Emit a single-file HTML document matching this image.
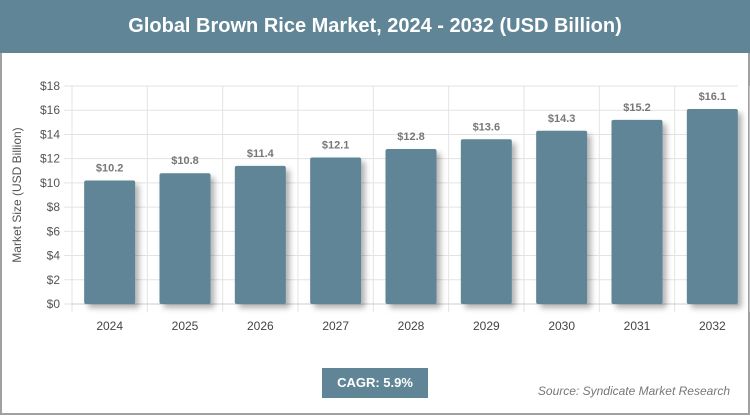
<!DOCTYPE html>
<html><head><meta charset="utf-8"><style>
body{margin:0;width:750px;height:417px;overflow:hidden;background:#fff;font-family:"Liberation Sans",sans-serif}
#frame{position:absolute;left:0;top:0;width:746px;height:413px;border:2px solid #a0a0a0;border-top:none}
#title{position:absolute;left:0;top:0;width:750px;height:53px;background:#5f8596;color:#fff;font-weight:bold;font-size:20px;text-align:center;line-height:53px}
#cagr{position:absolute;left:322px;top:368px;width:106px;height:30px;background:#5f8596;color:#fff;font-weight:bold;font-size:13px;text-align:center;line-height:30px}
#src{position:absolute;right:20px;top:384px;font-style:italic;color:#777;font-size:12px}
</style></head><body>
<div id="frame"></div>
<div id="title">Global Brown Rice Market, 2024 - 2032 (USD Billion)</div>
<svg id="chart" width="750" height="417" style="position:absolute;left:0;top:0">
<defs><filter id="sh" x="-20%" y="-10%" width="160%" height="130%"><feDropShadow dx="4" dy="4" stdDeviation="3" flood-color="#000" flood-opacity="0.3"/></filter></defs>
</svg>
<div id="cagr">CAGR: 5.9%</div>
<div id="src">Source: Syndicate Market Research</div>
<script>
const categories=["2024","2025","2026","2027","2028","2029","2030","2031","2032"];
const values=[10.2,10.8,11.4,12.1,12.8,13.6,14.3,15.2,16.1];
const yTicks=[0,2,4,6,8,10,12,14,16,18];
const svg=document.getElementById('chart');
const NS='http://www.w3.org/2000/svg';
const L=72,R=750,T=86,B=304,yMax=18;
const band=(R-L)/categories.length;
const y=v=>B-(v/yMax)*(B-T);
const x=i=>L+band*i;
function mk(t,a,txt){const e=document.createElementNS(NS,t);for(const k in a)e.setAttribute(k,a[k]);if(txt!=null)e.textContent=txt;svg.appendChild(e);return e;}
yTicks.forEach(t=>{
 const g=mk('line',{x1:L-8,x2:738,y1:y(t),y2:y(t),stroke:'#e3e3e3','stroke-width':1});
 
 
 const l=mk('text',{x:L-12,y:y(t)+4,'text-anchor':'end','font-size':12,fill:'#555'},'$'+t);
 
 
});
for(let i=0;i<=categories.length;i++){
 const g=mk('line',{x1:x(i),x2:x(i),y1:T,y2:B+8,stroke:'#e3e3e3','stroke-width':1});
 
 
}
const ax=mk('line',{x1:L,x2:738,y1:B,y2:B,stroke:'#ccc','stroke-width':1});


const bw=51;
categories.forEach((c,i)=>{
 const cx=x(i)+band/2;
 const r=mk('rect',{x:cx-bw/2,y:y(values[i]),width:bw,height:B-y(values[i]),fill:'#5f8596',rx:2,filter:'url(#sh)'});
 
 
 const v=mk('text',{x:cx,y:y(values[i])-9,'text-anchor':'middle','font-size':11,'font-weight':'bold',fill:'#777'},'$'+values[i].toFixed(1));
 
 
 const t=mk('text',{x:cx,y:B+26,'text-anchor':'middle','font-size':12,fill:'#444'},c);
 
 
});
const yt=mk('text',{x:0,y:0,transform:'translate(21,195) rotate(-90)','text-anchor':'middle','font-size':12,fill:'#555'},'Market Size (USD Billion)');


</script>
</body></html>
